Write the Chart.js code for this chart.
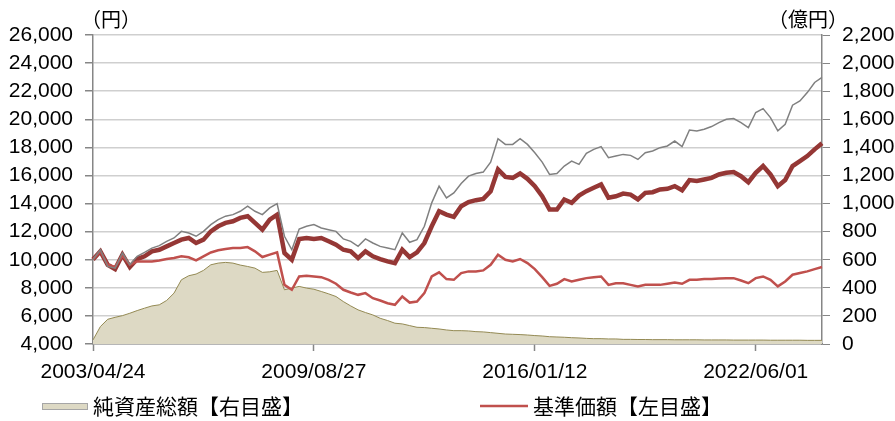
<!DOCTYPE html>
<html lang="ja">
<head>
<meta charset="utf-8">
<title>基準価額・純資産総額の推移</title>
<script src="https://cdn.jsdelivr.net/npm/chart.js@4.4.1/dist/chart.umd.min.js"></script>
<style>
  html, body { margin: 0; padding: 0; background: #fff; }
  #chart { display: block; }
</style>
</head>
<body>
<canvas id="chart" width="895" height="421"></canvas>
<script>
// 目盛ラベル（30点ごとに表示）
const tickLabels = ['2003/04/24', '2009/08/27', '2016/01/12', '2022/06/01']
const tickStep = 30

// 基準価額（円・左目盛）
const navValues = [
  10020, 10600, 9640, 9480, 10290, 9640, 9880, 9880, 9880, 9950,
  10050, 10120, 10240, 10170, 9950, 10240, 10520, 10670, 10760, 10830,
  10830, 10900, 10600, 10190, 10360, 10520, 8210, 7860, 8810, 8860,
  8810, 8760, 8570, 8290, 7860, 7670, 7500, 7620, 7260, 7100,
  6900, 6790, 7380, 6950, 7020, 7620, 8810, 9100, 8620, 8570,
  9050, 9170, 9170, 9240, 9640, 10360, 10000, 9880, 10050, 9760,
  9330, 8760, 8140, 8290, 8620, 8450, 8570, 8690, 8760, 8810,
  8210, 8330, 8330, 8210, 8100, 8210, 8210, 8210, 8290, 8380,
  8290, 8570, 8570, 8620, 8620, 8670, 8690, 8690, 8520, 8330,
  8690, 8810, 8570, 8100, 8450, 8930, 9050, 9170, 9330, 9480
]

// 分配金再投資基準価額（円・左目盛）
const reinvestValues = [
  10020, 10600, 9640, 9330, 10360, 9480, 10050, 10240, 10600, 10710,
  10950, 11190, 11430, 11550, 11190, 11430, 12020, 12380, 12620, 12740,
  12980, 13100, 12620, 12140, 12860, 13210, 10480, 10000, 11480, 11550,
  11480, 11550, 11310, 11070, 10710, 10600, 10120, 10600, 10240, 10050,
  9880, 9760, 10710, 10190, 10520, 11190, 12380, 13450, 13210, 13050,
  13810, 14100, 14240, 14330, 14880, 16430, 15900, 15830, 16140, 15760,
  15240, 14520, 13570, 13570, 14290, 14050, 14570, 14880, 15120, 15360,
  14410, 14520, 14710, 14640, 14290, 14760, 14810, 15000, 15050, 15240,
  14950, 15670, 15600, 15710, 15830, 16070, 16190, 16240, 15950, 15520,
  16190, 16670, 16070, 15240, 15670, 16670, 17020, 17380, 17860, 18290
]

// 参考指数（円換算・左目盛）
const indexValues = [
  10020, 10710, 9520, 9400, 10480, 9640, 10240, 10520, 10830, 11000,
  11310, 11550, 12020, 11900, 11670, 12020, 12500, 12860, 13100, 13210,
  13450, 13810, 13450, 13210, 13690, 14000, 11670, 10710, 12190, 12380,
  12500, 12260, 12140, 12020, 11480, 11310, 10950, 11480, 11190, 10950,
  10830, 10710, 11900, 11240, 11430, 12380, 14050, 15240, 14400, 14760,
  15430, 15950, 16140, 16240, 16950, 18620, 18210, 18210, 18620, 18210,
  17620, 16950, 16070, 16140, 16670, 17020, 16790, 17570, 17860, 18050,
  17260, 17380, 17500, 17430, 17140, 17620, 17740, 17980, 18100, 18450,
  18050, 19240, 19170, 19290, 19480, 19760, 20000, 20050, 19760, 19410,
  20480, 20760, 20120, 19170, 19640, 21000, 21310, 21900, 22620, 22980
]

// 純資産総額（億円・右目盛）
const assetValues = [
  29, 124, 176, 190, 202, 219, 238, 255, 271, 279,
  310, 362, 457, 486, 498, 524, 564, 576, 581, 576,
  562, 552, 540, 510, 514, 524, 386, 398, 410, 398,
  390, 374, 357, 338, 302, 271, 243, 224, 207, 183,
  167, 148, 143, 131, 119, 117, 112, 107, 100, 95,
  95, 93, 88, 86, 81, 76, 71, 69, 67, 64,
  60, 57, 52, 50, 48, 45, 43, 40, 38, 38,
  36, 36, 33, 33, 32, 32, 31, 31, 31, 30,
  30, 30, 30, 29, 29, 29, 29, 28, 28, 28,
  28, 28, 27, 27, 27, 27, 27, 26, 26, 26
]

// 目盛の範囲
const leftAxis = { min: 4000, max: 26000, step: 2000 }
const rightAxis = { min: 0, max: 2200, step: 200 }

const seriesNames = ['純資産総額【右目盛】', '基準価額【左目盛】', '分配金再投資基準価額【左目盛】', '参考指数【左目盛】']
const unitLeft = '（円）'
const unitRight = '（億円）'

const colors = {
  assetFill: '#DDD9C4',
  assetLine: '#948A54',
  nav: '#C0504D',
  reinvest: '#953735',
  index: '#808080',
  grid: '#CFCFCF',
  axis: '#868686'
}

const numFont = { family: '"Liberation Sans", Arial, sans-serif', size: 21, lineHeight: 1 }
const jpFont = '"Noto Sans CJK JP", sans-serif'

const labels = navValues.map((_, i) => (i % tickStep === 0 ? tickLabels[i / tickStep] : ''))

// 凡例と単位はキャンバスに直接描く
const extraText = {
  id: 'extraText',
  afterDraw(chart) {
    const ctx = chart.ctx
    const area = chart.chartArea
    ctx.save()
    ctx.textBaseline = 'middle'
    ctx.fillStyle = '#000'

    ctx.font = `20px ${jpFont}`
    ctx.textAlign = 'center'
    ctx.fillText(unitLeft, area.left + 18, 19)
    ctx.fillText(unitRight, area.right - 14, 19)

    ctx.font = `21px ${jpFont}`
    ctx.textAlign = 'left'
    const y = 406

    ctx.fillStyle = colors.assetFill
    ctx.fillRect(42, y - 3, 46, 7)
    ctx.strokeStyle = '#A6A6A6'
    ctx.lineWidth = 1
    ctx.strokeRect(42.5, y - 2.5, 45, 6)
    ctx.fillStyle = '#000'
    ctx.fillText(seriesNames[0], 93, y)

    ctx.strokeStyle = colors.nav
    ctx.lineWidth = 2.5
    ctx.beginPath()
    ctx.moveTo(480, y)
    ctx.lineTo(528, y)
    ctx.stroke()
    ctx.fillText(seriesNames[1], 533, y)
    ctx.restore()
  }
}

new Chart(document.getElementById('chart'), {
  type: 'line',
  data: {
    labels: labels,
    datasets: [
      {
        label: seriesNames[3],
        data: indexValues,
        yAxisID: 'y',
        borderColor: colors.index,
        borderWidth: 1.5,
        pointRadius: 0,
        order: 0
      },
      {
        label: seriesNames[1],
        data: navValues,
        yAxisID: 'y',
        borderColor: colors.nav,
        borderWidth: 2.5,
        pointRadius: 0,
        order: 1
      },
      {
        label: seriesNames[2],
        data: reinvestValues,
        yAxisID: 'y',
        borderColor: colors.reinvest,
        borderWidth: 4.5,
        pointRadius: 0,
        order: 2
      },
      {
        label: seriesNames[0],
        data: assetValues,
        yAxisID: 'y1',
        borderColor: colors.assetLine,
        backgroundColor: colors.assetFill,
        borderWidth: 1,
        pointRadius: 0,
        fill: 'origin',
        order: 3
      }
    ]
  },
  options: {
    responsive: false,
    animation: false,
    devicePixelRatio: 1,
    layout: { padding: { top: 35, left: 0, right: 0, bottom: 0 } },
    plugins: {
      legend: { display: false },
      tooltip: { enabled: false }
    },
    scales: {
      x: {
        type: 'category',
        offset: false,
        afterBuildTicks: (scale) => {
          scale.ticks = scale.ticks.filter(t => t.value % tickStep === 0)
        },
        afterFit: (scale) => { scale.height = 77 },
        ticks: {
          autoSkip: false,
          maxRotation: 0,
          minRotation: 0,
          padding: 11,
          color: '#000',
          font: numFont
        },
        grid: {
          drawOnChartArea: false,
          tickLength: 7,
          tickColor: colors.axis,
          tickWidth: 1.5
        },
        border: { color: colors.axis, width: 1.5 }
      },
      y: {
        position: 'left',
        min: leftAxis.min,
        max: leftAxis.max,
        afterFit: (scale) => { scale.width = 93 },
        ticks: {
          stepSize: leftAxis.step,
          autoSkip: false,
          padding: 12,
          color: '#000',
          font: numFont,
          callback: (v) => v.toLocaleString('en-US')
        },
        grid: {
          color: colors.grid,
          lineWidth: 1.5,
          tickLength: 8,
          tickColor: colors.axis
        },
        border: { color: colors.axis, width: 1.5 }
      },
      y1: {
        position: 'right',
        min: rightAxis.min,
        max: rightAxis.max,
        afterFit: (scale) => { scale.width = 73 },
        ticks: {
          stepSize: rightAxis.step,
          autoSkip: false,
          padding: 12,
          color: '#000',
          font: numFont,
          callback: (v) => v.toLocaleString('en-US')
        },
        grid: {
          drawOnChartArea: false,
          tickLength: 8,
          tickColor: colors.axis
        },
        border: { color: colors.axis, width: 1.5 }
      }
    }
  },
  plugins: [extraText]
})
</script>
</body>
</html>
